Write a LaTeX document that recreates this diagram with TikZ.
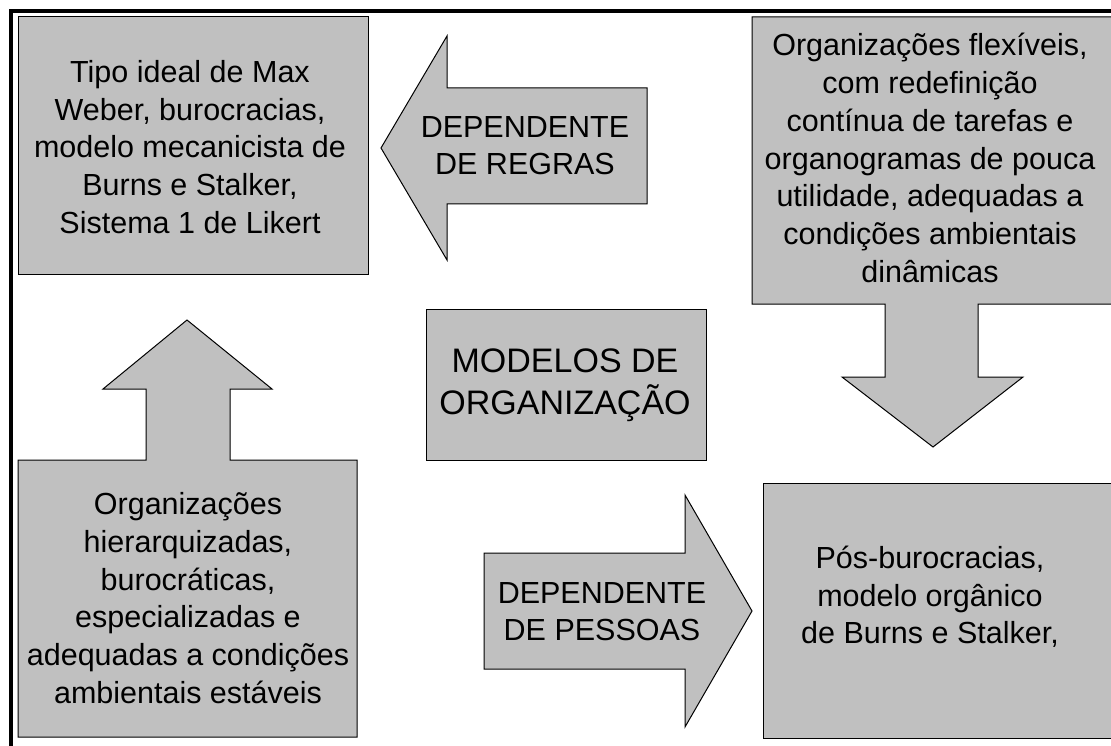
\documentclass[tikz,border=0pt]{standalone}
\usepackage{fontspec}
\setmainfont{Liberation Sans}
\definecolor{boxgray}{HTML}{C0C0C0}
\tikzset{
  block/.style={draw=black, fill=boxgray, line width=1pt, line join=miter},
  boxtxt/.style={align=center, inner sep=0pt, font=\fontsize{30.5}{37.7}\selectfont},
  arrowtxt/.style={align=center, inner sep=0pt, font=\fontsize{30.5}{36.7}\selectfont},
  titletxt/.style={align=center, inner sep=0pt, font=\fontsize{34}{41.7}\selectfont},
}
\begin{document}
\begin{tikzpicture}[x=1pt,y=-1pt]
\useasboundingbox (0,0) rectangle (1111,746);
\clip (0,0) rectangle (1111,746);

% draw frame
\draw [line width=4.5pt] (11,750) |- (1115,11);

% draw box with rules
\draw [block] (18,17) rectangle (368,274);
\node (weber) [boxtxt] at (190,147) {Tipo ideal de Max\\Weber, burocracias,\\modelo mecanicista de\\Burns e Stalker,\\Sistema 1 de Likert};

% draw arrow to the left
\draw [block] (381,148) -- (447,36) |- (647,88) |- (447,204) -- (447,260) -- cycle;
\node (regras) [arrowtxt] at (525,146) {DEPENDENTE\\DE REGRAS};

% draw box with arrow down
\draw [block] (752,17) -- (1115,17) -- (1115,304) -| (978,377) -- (1023,377) -- (933,447)
  -- (842,377) -| (885,304) -- (752,304) -- cycle;
\node (flexiveis) [boxtxt] at (930,158) {Organizações flexíveis,\\com redefinição\\contínua de tarefas e\\organogramas de pouca\\utilidade, adequadas a\\condições ambientais\\dinâmicas};

% draw title box
\draw [block] (426,309) rectangle (706,460);
\node (modelos) [titletxt] at (565,385) {MODELOS DE\\ORGANIZAÇÃO};

% draw box with arrow up
\draw [block] (18,460) -| (146,389) -- (103,389) -- (187,320) -- (272,389) -| (230,460)
  -- (357,460) -- (357,737) -- (18,737) -- cycle;
\node (hierarquia) [boxtxt] at (188,598) {Organizações\\hierarquizadas,\\burocráticas,\\especializadas e\\adequadas a condições\\ambientais estáveis};

% draw arrow to the right
\draw [block] (484,553) -- (685,553) -- (685,495) -- (752,611) -- (685,727) -- (685,669) -- (484,669) -- cycle;
\node (pessoas) [arrowtxt] at (602,612) {DEPENDENTE\\DE PESSOAS};

% draw box after bureaucracy
\draw [block] (763,483) rectangle (1115,738);
\node (posburo) [boxtxt] at (930,597) {Pós-burocracias,\\modelo orgânico\\de Burns e Stalker,};

\end{tikzpicture}
\end{document}
